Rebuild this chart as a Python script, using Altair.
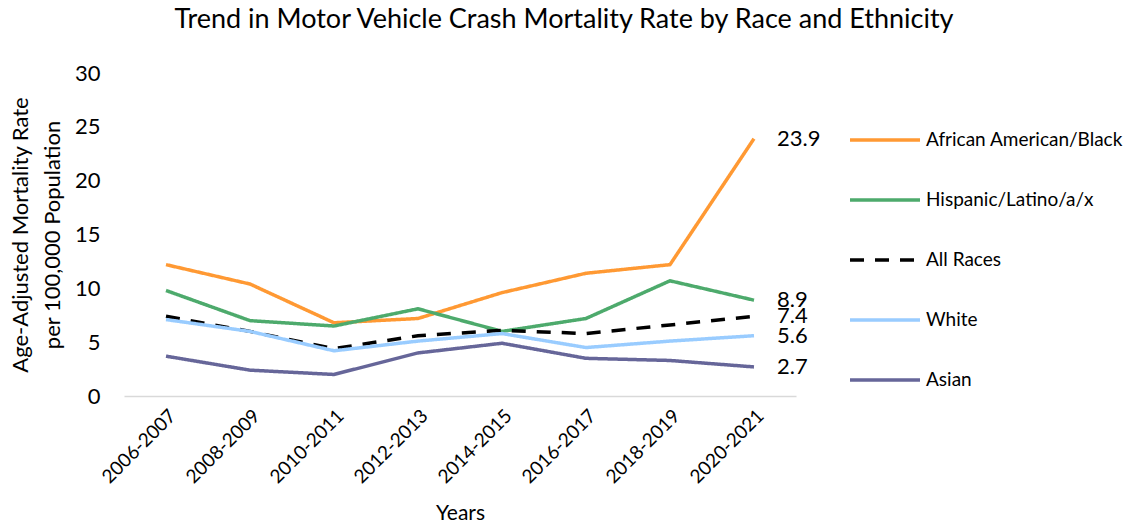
import altair as alt
import pandas as pd

years = ["2006-2007", "2008-2009", "2010-2011", "2012-2013",
         "2014-2015", "2016-2017", "2018-2019", "2020-2021"]
series_names = ["African American/Black", "Hispanic/Latino/a/x", "All Races", "White", "Asian"]
african_american = [12.2, 10.4, 6.8, 7.2, 9.6, 11.4, 12.2, 23.9]
hispanic = [9.8, 7.0, 6.5, 8.1, 6.0, 7.2, 10.7, 8.9]
all_races = [7.4, 6.0, 4.4, 5.6, 6.1, 5.8, 6.6, 7.4]
white = [7.1, 6.0, 4.2, 5.1, 5.8, 4.5, 5.1, 5.6]
asian = [3.7, 2.4, 2.0, 4.0, 4.9, 3.5, 3.3, 2.7]
colors = ["#FF9933", "#4DAA6C", "#000000", "#99CCFF", "#666699"]
dashes = [[1, 0], [1, 0], [14, 11], [1, 0], [1, 0]]

values = [african_american, hispanic, all_races, white, asian]
rows = []
for s, vals in zip(series_names, values):
    for i, (y, v) in enumerate(zip(years, vals)):
        rows.append({"Years": y, "Series": s, "Rate": v, "order": series_names.index(s)})
df = pd.DataFrame(rows)

font = "Lato"

x = alt.X("Years:O", sort=years,
          scale=alt.Scale(type="point", padding=0.5),
          axis=alt.Axis(title="Years", labelAngle=-45, labelFontSize=19, labelColor="#000",
                        labelFont=font, titleFont=font, titleFontSize=21, titleFontWeight="normal",
                        titleColor="#000", ticks=False, domainColor="#D9D9D9", domainWidth=1.5,
                        labelPadding=10, titlePadding=16))
y = alt.Y("Rate:Q", scale=alt.Scale(domain=[0, 30]),
          axis=alt.Axis(title=["Age-Adjusted Mortality Rate", "per 100,000 Population"],
                        values=[0, 5, 10, 15, 20, 25, 30], grid=False, domain=False, ticks=False,
                        labelFontSize=22, labelColor="#000", labelFont=font, labelPadding=24,
                        titleFont=font, titleFontSize=22, titleLineHeight=32, titleFontWeight="normal",
                        titleColor="#000", titlePadding=10))

lines = alt.Chart(df).mark_line(strokeWidth=3.5).encode(
    x=x, y=y,
    color=alt.Color("Series:N", scale=alt.Scale(domain=series_names, range=colors),
                    legend=alt.Legend(title=None, orient="none", legendX=724, legendY=30,
                                      symbolType="stroke", symbolSize=4900, symbolStrokeWidth=3.5,
                                      labelFontSize=19, labelFont=font, labelColor="#000",
                                      labelLimit=400, rowPadding=13, labelOffset=4)),
    strokeDash=alt.StrokeDash("Series:N", scale=alt.Scale(domain=series_names, range=dashes),
                              legend=None),
    order="order:Q",
    detail="Series:N",
)

labels = alt.Chart(df).transform_filter(
    alt.datum.Years == years[-1]
).mark_text(align="left", baseline="middle", dx=23, fontSize=22, font=font, color="#000").encode(
    x=alt.X("Years:O", sort=years, scale=alt.Scale(type="point", padding=0.5)),
    y=alt.Y("Rate:Q"),
    text=alt.Text("Rate:Q", format=".1f"),
)

chart = alt.layer(lines, labels).properties(
    width=672, height=323,
    autosize=alt.AutoSizeParams(type="none"),
    padding={"left": 116, "top": 65, "right": 330, "bottom": 130},
    title=alt.TitleParams("Trend in Motor Vehicle Crash Mortality Rate by Race and Ethnicity",
                          font=font, fontSize=27, fontWeight="normal", color="#000",
                          anchor="middle", dx=104, offset=28),
).configure_view(stroke=None)

chart.save("out.html", embed_options={"renderer": "svg", "actions": False})
